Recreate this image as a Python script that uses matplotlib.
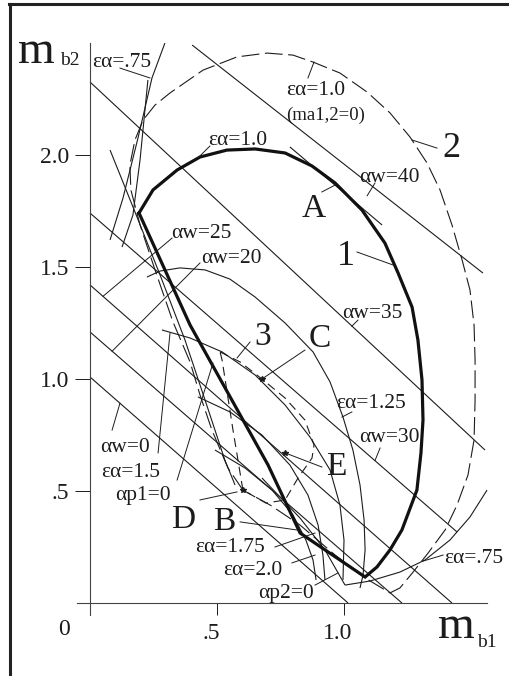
import matplotlib
matplotlib.use('Agg')
import matplotlib.pyplot as plt
from matplotlib.lines import Line2D
from matplotlib.transforms import ScaledTranslation

plt.rcParams['font.family'] = ['Liberation Serif', 'DejaVu Serif']
INK = '#1c1c1c'

# ---------------- data (mb1, mb2) ----------------
# curve 1 : blocking contour eps_alpha = 1.0 (thick)
c1_mb1 = [0.193, 0.248, 0.343, 0.433, 0.539, 0.650, 0.768, 0.874, 0.965, 1.071, 1.161,
          1.213, 1.268, 1.291, 1.307, 1.311, 1.303, 1.287, 1.228, 1.181, 1.130, 1.083,
          0.827, 0.701, 0.394, 0.193]
c1_mb2 = [1.741, 1.844, 1.933, 1.991, 2.022, 2.027, 2.009, 1.951, 1.875, 1.754, 1.607,
          1.473, 1.321, 1.174, 0.996, 0.817, 0.670, 0.504, 0.326, 0.237, 0.161, 0.116,
          0.3125, 0.616, 1.241, 1.741]

# curve 2 : eps_alpha = 1.0 with ma1,2 = 0 (long dashes)
c2_mb1 = [0.602, 0.543, 0.480, 0.433, 0.394, 0.327, 0.256, 0.197, 0.161, 0.157, 0.177,
          0.209, 0.256, 0.315, 0.445, 0.579, 0.697, 0.799, 0.878, 0.984, 1.091, 1.181,
          1.260, 1.327, 1.378, 1.425, 1.465, 1.496, 1.512, 1.516, 1.516, 1.512, 1.488,
          1.445, 1.398, 1.331, 1.272, 1.220, 1.181, 1.083, 0.965, 0.827, 0.709, 0.602]
c2_mb2 = [0.504, 0.603, 0.772, 0.929, 1.076, 1.254, 1.487, 1.688, 1.844, 1.955, 2.067,
          2.156, 2.223, 2.277, 2.379, 2.438, 2.455, 2.446, 2.415, 2.366, 2.281, 2.188,
          2.080, 1.964, 1.844, 1.688, 1.531, 1.397, 1.241, 1.085, 0.906, 0.728, 0.571,
          0.4375, 0.326, 0.223, 0.138, 0.067, 0.045, 0.112, 0.214, 0.348, 0.4375, 0.504]

# curve 3 : small dashed contour
c3_mb1 = [0.512, 0.591, 0.677, 0.768, 0.846, 0.882, 0.874, 0.819, 0.768, 0.693, 0.602,
          0.563, 0.520, 0.512]
c3_mb2 = [1.121, 1.076, 1.000, 0.915, 0.817, 0.705, 0.647, 0.558, 0.460, 0.446, 0.504,
          0.772, 1.085, 1.121]

# working pressure angle lines alpha_w = const (end points)
aw_values = ['40', '35', '30', '25', '20', '0']
aw_mb1 = [[0.402, 1.547], [0.0, 1.555], [0.0, 1.445], [0.0, 1.425], [0.0, 1.228], [0.0, 1.016]]
aw_mb2 = [[2.491, 1.473], [2.326, 0.683], [1.741, 0.317], [1.420, 0.0], [1.210, 0.0], [1.009, 0.0]]

# tangent line at point A
tanA_mb1 = [0.787, 1.150]
tanA_mb2 = [2.036, 1.6875]

# eps_alpha = .75 (upper left branches)
e075a_mb1 = [0.295, 0.244, 0.189, 0.130, 0.079]
e075a_mb2 = [2.500, 2.344, 2.076, 1.808, 1.621]
e075b_mb1 = [0.228, 0.197, 0.169, 0.126]
e075b_mb2 = [2.335, 1.978, 1.732, 1.589]
# eps_alpha = .75 (lower right branch)
e075r_mb1 = [1.004, 1.102, 1.220, 1.319, 1.417, 1.496, 1.563]
e075r_mb2 = [0.080, 0.098, 0.138, 0.192, 0.281, 0.384, 0.504]

# alpha_p1 = 0 line
ap1_mb1 = [0.079, 0.177, 0.276, 0.374, 0.453, 0.531, 0.571]
ap1_mb2 = [2.022, 1.746, 1.464, 1.174, 0.906, 0.638, 0.527]

# eps_alpha = 1.25 / 1.5 / 1.75 / 2.0 curves
e125_mb1 = [0.224, 0.276, 0.354, 0.453, 0.551, 0.650, 0.768, 0.878, 0.945, 0.996, 1.035,
            1.063, 1.079, 1.083, 1.075, 1.063]
e125_mb2 = [1.455, 1.482, 1.496, 1.487, 1.446, 1.366, 1.250, 1.121, 0.987, 0.830, 0.683,
            0.527, 0.371, 0.237, 0.125, 0.067]
e150_mb1 = [0.283, 0.394, 0.520, 0.650, 0.768, 0.866, 0.945, 0.984, 1.000, 0.996]
e150_mb2 = [1.219, 1.183, 1.121, 1.018, 0.884, 0.741, 0.594, 0.4375, 0.281, 0.103]
e175_mb1 = [0.425, 0.551, 0.677, 0.787, 0.858, 0.898, 0.917, 0.925]
e175_mb2 = [0.920, 0.853, 0.750, 0.616, 0.482, 0.348, 0.214, 0.103]
e200_mb1 = [0.492, 0.610, 0.717, 0.799, 0.850, 0.878, 0.890]
e200_mb2 = [0.683, 0.603, 0.504, 0.393, 0.281, 0.192, 0.103]
# alpha_p2 = 0 line
ap2_mb1 = [0.677, 0.827, 0.925, 1.004]
ap2_mb2 = [0.558, 0.379, 0.237, 0.080]

# marked points
pts_name = ['C', 'D', 'E']
pts_mb1 = [0.677, 0.602, 0.768]
pts_mb2 = [1.000, 0.504, 0.670]

xticks = [0.5, 1.0]
xticklabels = ['.5', '1.0']
yticks = [0.5, 1.0, 1.5, 2.0]
yticklabels = ['.5', '1.0', '1.5', '2.0']

# ---------------- figure ----------------
fig = plt.figure(figsize=(5.10, 6.76), dpi=100)
ax = fig.add_axes([0, 0, 1, 1])
ax.set_xlim(-0.3543, 1.6535)
ax.set_ylim(-0.3259, 2.6920)

thin = dict(color=INK, lw=0.8, solid_capstyle='butt')

# axes through the origin
for s in ['top', 'right']:
    ax.spines[s].set_visible(False)
ax.spines['left'].set_position(('data', 0))
ax.spines['bottom'].set_position(('data', 0))
ax.spines['left'].set_bounds(-0.054, 2.50)
ax.spines['bottom'].set_bounds(-0.051, 1.563)
for s in ['left', 'bottom']:
    ax.spines[s].set_color('#444444')
    ax.spines[s].set_linewidth(0.8)
ax.set_xticks(xticks)
ax.set_xticklabels(xticklabels)
ax.set_yticks(yticks)
ax.set_yticklabels(yticklabels)
ax.tick_params(axis='y', direction='out', length=11, width=0.7, pad=4,
               labelsize=17, colors=INK)
ax.tick_params(axis='x', direction='out', length=8.5, width=0.7, pad=6,
               labelsize=17, colors=INK)
for t in ax.get_xticklabels():
    t.set_transform(t.get_transform() + ScaledTranslation(-6 / 100, 0, fig.dpi_scale_trans))

# alpha_w lines
for xs, ys in zip(aw_mb1, aw_mb2):
    ax.plot(xs, ys, **thin)
ax.plot(tanA_mb1, tanA_mb2, **thin)

# eps curves and other thin lines
for xs, ys in [(e075a_mb1, e075a_mb2), (e075b_mb1, e075b_mb2), (e075r_mb1, e075r_mb2),
               (ap1_mb1, ap1_mb2), (e125_mb1, e125_mb2), (e150_mb1, e150_mb2),
               (e175_mb1, e175_mb2), (e200_mb1, e200_mb2), (ap2_mb1, ap2_mb2)]:
    ax.plot(xs, ys, **thin)

# curve 2 (long dashes) and curve 3 (short dashes)
ax.plot(c2_mb1, c2_mb2, color=INK, lw=0.8, dashes=(16, 5))
ax.plot(c3_mb1, c3_mb2, color=INK, lw=0.8, dashes=(8, 5))

# curve 1 thick
ax.plot(c1_mb1, c1_mb2, color='#111111', lw=2.3, solid_joinstyle='miter')

# marked points
ax.plot(pts_mb1, pts_mb2, ls='none', marker='*', ms=4, color=INK)

# ---------------- labels with leader lines ----------------
LS = 15.5
BIG = 24


def lab(txt, x, y, size=LS):
    ax.text(x, y, txt, ha='left', va='baseline', fontsize=size, color=INK)


def lead(x0, y0, x1, y1):
    ax.plot([x0, x1], [y0, y1], color=INK, lw=0.7)


lab('εα=.75', 0.008, 2.393); lead(0.118, 2.388, 0.236, 2.344)
lab('εα=1.0', 0.466, 2.045); lead(0.472, 2.040, 0.425, 1.987)
lab('εα=1.0', 0.774, 2.268); lead(0.858, 2.344, 0.882, 2.415)
lab('(ma1,2=0)', 0.774, 2.156, 13.5)
lab('2', 1.386, 1.991, 26); lead(1.366, 2.031, 1.268, 2.067)
lab('αw=40', 1.058, 1.879); lead(1.122, 1.875, 1.091, 1.818)
lab('A', 0.835, 1.723, BIG); lead(0.913, 1.835, 0.965, 1.866)
lab('1', 0.972, 1.509, 26); lead(1.051, 1.567, 1.193, 1.509)
lab('αw=25', 0.318, 1.629); lead(0.323, 1.629, 0.051, 1.369)
lab('αw=20', 0.436, 1.518); lead(0.433, 1.518, 0.087, 1.124)
lab('αw=35', 0.991, 1.272); lead(1.055, 1.263, 1.031, 1.236)
lab('3', 0.646, 1.152, BIG); lead(0.630, 1.165, 0.579, 1.094)
lab('C', 0.862, 1.143, BIG); lead(0.846, 1.129, 0.677, 1.000)
lab('εα=1.25', 0.970, 0.871); lead(1.031, 0.853, 0.992, 0.830)
lab('αw=30', 1.058, 0.719); lead(1.142, 0.692, 1.122, 0.636)
lab('E', 0.929, 0.571, BIG); lead(0.768, 0.670, 0.913, 0.607)
lab('αw=0', 0.041, 0.674); lead(0.087, 0.772, 0.118, 0.892)
lab('εα=1.5', 0.045, 0.5625); lead(0.268, 0.670, 0.315, 1.205)
lab('αp1=0', 0.100, 0.460); lead(0.343, 0.549, 0.484, 1.071)
lab('D', 0.320, 0.335, BIG); lead(0.433, 0.460, 0.579, 0.496)
lab('B', 0.486, 0.326, BIG); lead(0.591, 0.362, 0.815, 0.326)
lab('εα=1.75', 0.415, 0.228); lead(0.728, 0.250, 0.886, 0.3125)
lab('εα=2.0', 0.525, 0.125); lead(0.795, 0.179, 0.886, 0.214)
lab('αp2=0', 0.663, 0.022); lead(0.886, 0.080, 0.976, 0.134)
lab('εα=.75', 1.394, 0.179); lead(1.390, 0.214, 1.311, 0.187)

# axis titles
ax.text(-0.284, 2.411, 'm', fontsize=34, ha='left', va='baseline', color=INK)
ax.text(-0.118, 2.402, 'b2', fontsize=14, ha='left', va='baseline', color=INK)
ax.text(1.372, -0.156, 'm', fontsize=34, ha='left', va='baseline', color=INK)
ax.text(1.524, -0.196, 'b1', fontsize=14, ha='left', va='baseline', color=INK)
ax.text(-0.126, -0.143, '0', fontsize=17, ha='left', va='baseline', color=INK)

# frame (left and top border)
fig.add_artist(Line2D([0.0196, 0.0196], [0.0, 0.9941], transform=fig.transFigure,
                      color='#222222', lw=2.2))
fig.add_artist(Line2D([0.0176, 1.0], [0.9941, 0.9941], transform=fig.transFigure,
                      color='#222222', lw=2.2))

fig.savefig('out.png', dpi=100)
